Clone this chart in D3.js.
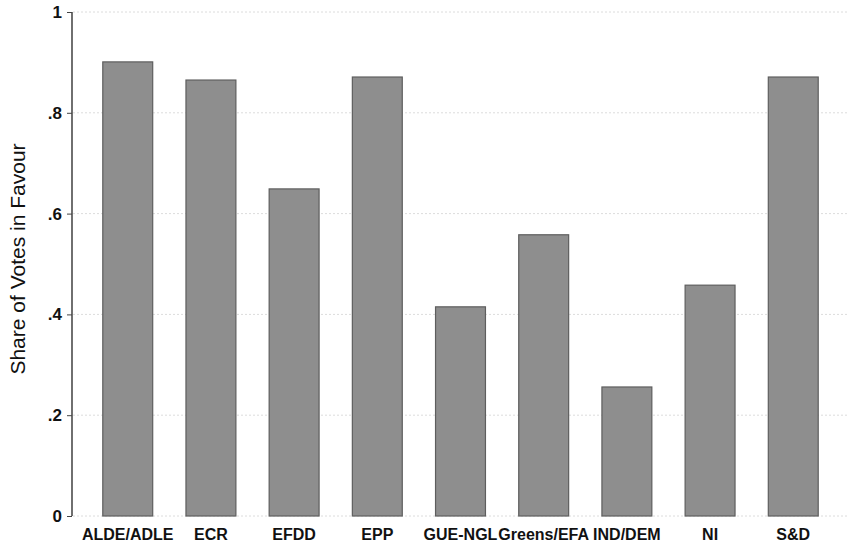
<!DOCTYPE html>
<html><head><meta charset="utf-8">
<script src="https://cdn.jsdelivr.net/npm/d3@7"></script>
<style>body{margin:0;background:#fff}svg{display:block}</style>
</head><body>
<script>
const categories = ["ALDE/ADLE","ECR","EFDD","EPP","GUE-NGL","Greens/EFA","IND/DEM","NI","S&D"];
const shareInFavour = [0.901,0.865,0.649,0.871,0.415,0.558,0.256,0.458,0.871];
const yTicks = [0,0.2,0.4,0.6,0.8,1];
const yTickLabels = ["0",".2",".4",".6",".8","1"];

const W = 851, H = 546;
const svg = d3.select("body").append("svg").attr("width",W).attr("height",H);
const x = d3.scaleBand().domain(categories).range([72,849]).paddingInner(0.4).paddingOuter(0.37);
const y = d3.scaleLinear().domain([0,1]).range([516,12]);

// gridlines
svg.append("g").selectAll("line").data(yTicks).join("line")
  .attr("x1",73).attr("x2",849)
  .attr("y1",d=>y(d)).attr("y2",d=>y(d))
  .attr("stroke","#dcdcdc").attr("stroke-width",1).attr("stroke-dasharray","2,2");

// bars
svg.append("g").selectAll("rect").data(categories).join("rect")
  .attr("x",d=>x(d)).attr("width",x.bandwidth())
  .attr("y",(d,i)=>y(shareInFavour[i]))
  .attr("height",(d,i)=>y(0)-y(shareInFavour[i]))
  .attr("fill","#8e8e8e").attr("stroke","#5e5e5e").attr("stroke-width",1.2);

// y axis
const yAxis = d3.axisLeft(y).tickValues(yTicks).tickFormat((d,i)=>yTickLabels[i]).tickSize(5).tickPadding(5);
const ga = svg.append("g").attr("transform","translate(72,0)").call(yAxis);
ga.select(".domain").attr("d","M0,12V516").attr("stroke","#222").attr("stroke-width",1.3);
ga.selectAll(".tick line").attr("stroke","#444");
ga.selectAll(".tick text").attr("font-family","Liberation Sans, Arial, sans-serif").attr("font-size",17).attr("font-weight","bold").attr("fill","#111");

// x labels
const gx = svg.append("g").attr("transform","translate(0,516)").call(d3.axisBottom(x).tickSize(0).tickPadding(13));
gx.select(".domain").remove();
gx.selectAll(".tick text").attr("font-family","Liberation Sans, Arial, sans-serif").attr("font-size",16).attr("font-weight","bold").attr("fill","#111");

// y title
svg.append("text").attr("transform","translate(25,259) rotate(-90)")
  .attr("text-anchor","middle").attr("font-family","Liberation Sans, Arial, sans-serif")
  .attr("font-size",21).attr("fill","#111").text("Share of Votes in Favour");
</script>
</body></html>
